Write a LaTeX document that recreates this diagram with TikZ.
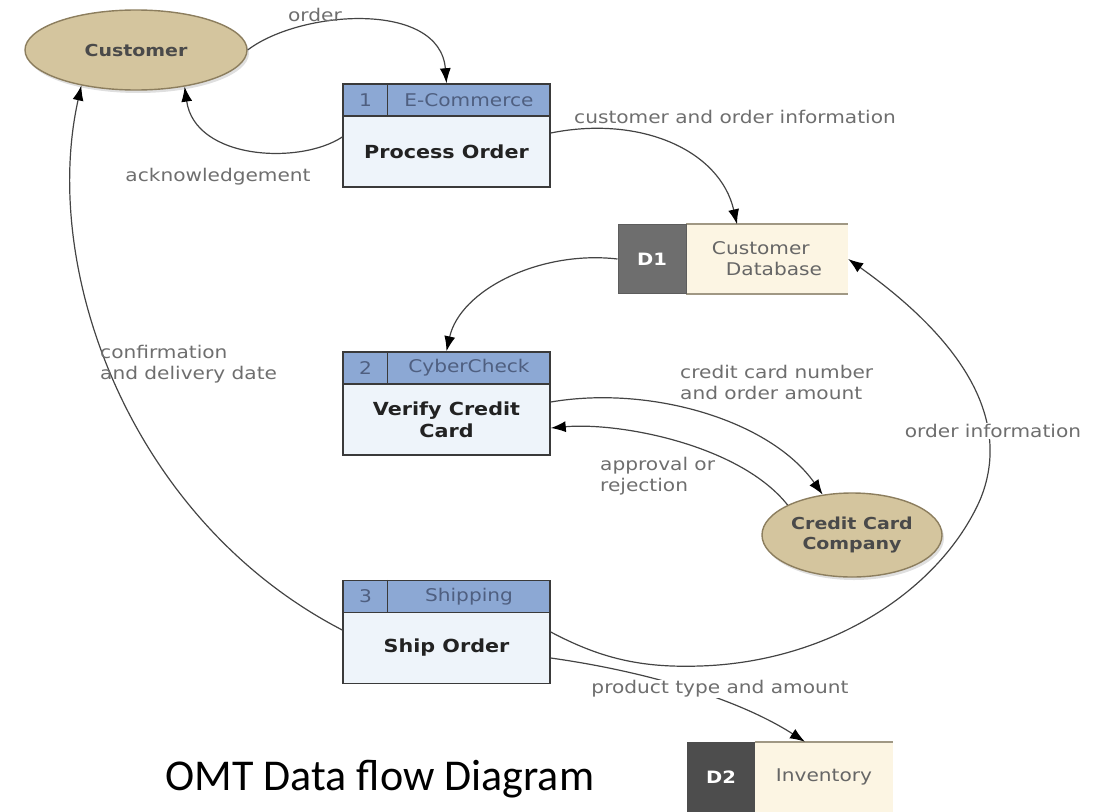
\documentclass[tikz,border=0pt]{standalone}
\usepackage{fontspec}
\setmainfont{DejaVu Sans}
\newfontfamily\labfont[FakeStretch=1.15]{DejaVu Sans}
\newfontfamily\titlefont{Carlito}
\usetikzlibrary{arrows.meta,shapes.geometric,shadows}
\definecolor{hdrblue}{HTML}{8CA8D4}
\definecolor{bodyblue}{HTML}{EEF4FA}
\definecolor{boxline}{HTML}{3A3A3A}
\definecolor{entfill}{HTML}{D4C59E}
\definecolor{entline}{HTML}{8C7E5E}
\definecolor{enttext}{HTML}{4A4A4A}
\definecolor{hdrtextc}{HTML}{4F5F80}
\definecolor{bodytext}{HTML}{222222}
\definecolor{labgray}{HTML}{6E6E6E}
\definecolor{flowline}{HTML}{444444}
\definecolor{storefill}{HTML}{FCF5E3}
\definecolor{storeline}{HTML}{A09884}
\definecolor{doneDark}{HTML}{6E6E6E}
\definecolor{dtwoDark}{HTML}{4D4D4D}
\definecolor{storetext}{HTML}{666666}
\begin{document}
\begin{tikzpicture}[x=1pt,y=-1pt,
  ent/.style={ellipse, draw=entline, line width=1.4pt, fill=entfill, inner sep=0pt,
    font=\labfont\bfseries\fontsize{16.5}{20}\selectfont, text=enttext, align=center,
    drop shadow={opacity=0.25, shadow xshift=2pt, shadow yshift=-3pt}},
  hdr/.style={rectangle, draw=boxline, line width=1.5pt, fill=hdrblue,
    minimum width=207pt, minimum height=32pt, inner sep=0pt},
  bodyst/.style={rectangle, draw=boxline, line width=1.5pt, fill=bodyblue,
    minimum width=207pt, minimum height=71pt, inner sep=0pt,
    font=\labfont\bfseries\fontsize{18}{22}\selectfont, text=bodytext, align=center},
  hdrtext/.style={font=\labfont\fontsize{17.5}{21}\selectfont, text=hdrtextc, inner sep=0pt},
  lab/.style={font=\labfont\fontsize{17.5}{21}\selectfont, text=labgray, align=left, inner sep=1pt},
  store/.style={rectangle, fill=storefill, draw=none, minimum height=69pt, inner sep=0pt,
    font=\labfont\fontsize{17.5}{21}\selectfont, text=storetext, align=left},
  dstore/.style={rectangle, minimum width=68pt, minimum height=69pt, inner sep=0pt,
    font=\labfont\bfseries\fontsize{17}{20}\selectfont, text=white},
  sline/.style={draw=storeline, line width=1.8pt},
  divline/.style={draw=boxline, line width=1.5pt},
  flow/.style={draw=flowline, line width=1.2pt, -{Latex[length=15pt,width=11pt,color=black]}}
]
\useasboundingbox (0,0) rectangle (1099,811);

% entities
\node[ent, minimum width=222pt, minimum height=80pt] (cust) at (136,50) {Customer};
\node[ent, minimum width=180pt, minimum height=84pt] (ccc) at (852,535) {Credit Card\\Company};

% process 1
\node[bodyst] (p1) at (446.5,151.5) {Process Order};
\node[hdr] (p1h) at (446.5,100) {};
\draw[divline] ([xshift=45pt]p1h.north west) -- ([xshift=45pt]p1h.south west);
\node[hdrtext] (p1n) at (365.5,100) {1};
\node[hdrtext] (p1t) at (469,100) {E-Commerce};

% process 2
\node[bodyst] (p2) at (446.5,419.5) {Verify Credit\\Card};
\node[hdr] (p2h) at (446.5,368) {};
\draw[divline] ([xshift=45pt]p2h.north west) -- ([xshift=45pt]p2h.south west);
\node[hdrtext] (p2n) at (365.5,368) {2};
\node[hdrtext] (p2t) at (469,368) {CyberCheck};

% process 3
\node[bodyst] (p3) at (446.5,648) {Ship Order};
\node[hdr] (p3h) at (446.5,596.5) {};
\draw[divline] ([xshift=45pt]p3h.north west) -- ([xshift=45pt]p3h.south west);
\node[hdrtext] (p3n) at (365.5,596.5) {3};
\node[hdrtext] (p3t) at (469,596.5) {Shipping};

% data store D1
\node[store, minimum width=162pt] (d1t) at (767,259) {Customer\\\hspace*{14pt}Database};
\draw[sline] (d1t.north west) -- (d1t.north east);
\draw[sline] (d1t.south west) -- (d1t.south east);
\node[dstore, fill=doneDark, draw=doneDark!85!black, line width=1pt] (d1) at (652,259) {D1};

% data store D2
\node[store, minimum width=138pt, minimum height=70pt] (d2t) at (824,777) {Inventory};
\draw[sline] (d2t.north west) -- (d2t.north east);
\node[dstore, fill=dtwoDark, minimum height=70pt] (d2) at (721,777) {D2};

% flows
\draw[flow] (cust.east) .. controls (300,10) and (440,0) .. (p1h.north);
\draw[flow] ([yshift=14.5pt]p1.west) .. controls (300,165) and (195,160) .. (cust.-37);
\draw[flow] ([yshift=18.5pt]p1.east) .. controls (640,115) and (720,150) .. ([xshift=-30pt]d1t.north);
\draw[flow] (d1.west) .. controls (540,250) and (460,290) .. (p2h.north);
\draw[flow] ([yshift=18pt]p3.west) .. controls (130,520) and (40,270) .. (cust.-147);
\draw[flow] ([yshift=17.5pt]p2.east) .. controls (650,385) and (770,420) .. (ccc.126);
\draw[flow] (ccc.155) .. controls (740,445) and (620,422) .. ([yshift=-8.5pt]p2.east);
\draw[flow] ([yshift=16pt]p3.east) .. controls (600,658) and (640,668) .. (700,666)
   .. controls (830,662) and (940,590) .. (980,500)
   .. controls (1005,440) and (990,360) .. (d1t.east);
\draw[flow] ([yshift=-10pt]p3.east) .. controls (650,672) and (740,700) .. ([xshift=-19pt]d2t.north);

% labels
\node[lab] (lorder) at (315,15) {order};
\node[lab] (lack) at (218,177) {acknowledgement};
\node[lab] (lcoi) at (735,117) {customer and order information};
\node[lab, anchor=west] (lconf) at (99,364) {confirmation\\and delivery date};
\node[lab, anchor=west] (lcc) at (679,382) {credit card number\\and order amount};
\node[lab, fill=white] (loi) at (993,431) {order information};
\node[lab, anchor=west] (lapp) at (599,476) {approval or\\rejection};
\node[lab, fill=white] (lpt) at (720,689) {product type and amount};

% title
\node[anchor=base, inner sep=0pt, font=\titlefont\fontsize{44}{50}\selectfont] (title) at (380,790) {OMT Data flow Diagram};
\end{tikzpicture}
\end{document}
